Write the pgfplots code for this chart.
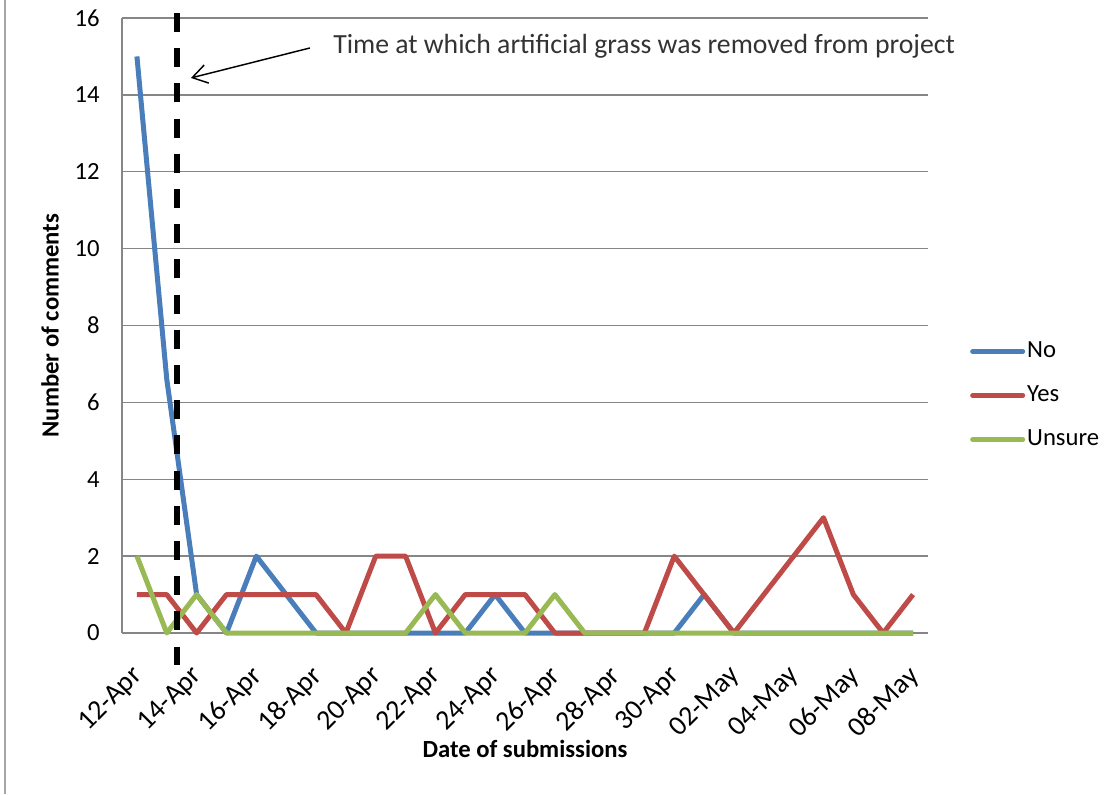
\documentclass[border=0pt]{standalone}
\usepackage{pgfplots}
\pgfplotsset{compat=1.18}
\usepackage{fontspec}
\setmainfont{Carlito}
\usetikzlibrary{arrows.meta}
\definecolor{cNo}{RGB}{74,126,187}
\definecolor{cYes}{RGB}{190,75,72}
\definecolor{cUn}{RGB}{152,185,84}
\definecolor{gridc}{RGB}{134,134,134}
\pgfplotstableread{
x No Yes Unsure
0 15 1 2
1 6.6 1 0
2 1 0 1
3 0 1 0
4 2 1 0
5 1 1 0
6 0 1 0
7 0 0 0
8 0 2 0
9 0 2 0
10 0 0 1
11 0 1 0
12 1 1 0
13 0 1 0
14 0 0 1
15 0 0 0
16 0 0 0
17 0 0 0
18 0 2 0
19 1 1 0
20 0 0 0
21 0 1 0
22 0 2 0
23 0 3 0
24 0 1 0
25 0 0 0
26 0 1 0
}\datatable
\begin{document}
\begin{tikzpicture}
\begin{axis}[
  at={(0,0)}, anchor=south west,
  scale only axis, width=604.5pt, height=461.25pt,
  xmin=-0.5, xmax=26.5, ymin=0, ymax=16,
  clip=false,
  axis x line*=bottom, axis y line*=left,
  axis line style={gridc, line width=1.2pt, -},
  ymajorgrids, grid style={gridc, line width=1.1pt},
  major tick length=0pt,
  ytick={0,2,...,16},
  xtick={0,2,...,26},
  xticklabels={12-Apr,14-Apr,16-Apr,18-Apr,20-Apr,22-Apr,24-Apr,26-Apr,28-Apr,30-Apr,02-May,04-May,06-May,08-May},
  yticklabel style={font=\fontsize{18.5}{22}\selectfont, anchor=east, inner sep=0pt},
  /pgf/number format/assume math mode=true,
  yticklabel shift=16.5pt,
  xticklabel style={font=\fontsize{21}{24}\selectfont, rotate=45, anchor=north east, inner ysep=0pt, inner xsep=7pt},
  xticklabel shift=18pt,
  xlabel={Date of submissions},
  ylabel={Number of comments},
  every axis x label/.style={at={(rel axis cs:0.5,-0.1886)}, anchor=center, font=\bfseries\fontsize{18.5}{22}\selectfont},
  every axis y label/.style={at={(rel axis cs:-0.0893,0.5)}, rotate=90, anchor=center, font=\bfseries\fontsize{18.5}{22}\selectfont},
  legend style={at={(rel axis cs:1.052,0.4765)}, anchor=north west, draw=none, fill=none,
    font=\fontsize{18.5}{22}\selectfont, row sep=16pt, column sep=1.5pt, inner sep=0pt,
    nodes={inner sep=0pt, text height=13pt, text depth=4pt}},
  legend cell align=left,
  legend image code/.code={\draw[#1, line cap=round] (0pt,0pt) -- (37.5pt,0pt);},
  every axis plot/.append style={line width=3.75pt, line join=round},
]
\addplot[cNo, no markers] table[x=x, y=No] {\datatable};
\addplot[cYes, no markers] table[x=x, y=Yes] {\datatable};
\addplot[cUn, no markers] table[x=x, y=Unsure] {\datatable};
\legend{No, Yes, Unsure}
\draw[black, line width=4.5pt, dash pattern=on 14.25pt off 12.15pt] (axis cs:1.34,16.13) -- (axis cs:1.34,-0.833);
\draw[black, line width=1.1pt, -{Straight Barb[length=11pt,width=14pt]}] (axis cs:5.795,15.22) -- (axis cs:1.809,14.44);
\node[anchor=west, text=black!80, font=\fontsize{20.8}{24}\selectfont, inner sep=0pt] at (axis cs:6.568,15.27) {Time at which artificial grass was removed from project};
\end{axis}
\draw[gray!70, line width=1.5pt] (-88.1pt,-120.75pt) -- (-88.1pt,474.75pt);
\pgfresetboundingbox
\path[use as bounding box] (-91.5pt,-120.75pt) rectangle (744.75pt,474.75pt);
\end{tikzpicture}
\end{document}
